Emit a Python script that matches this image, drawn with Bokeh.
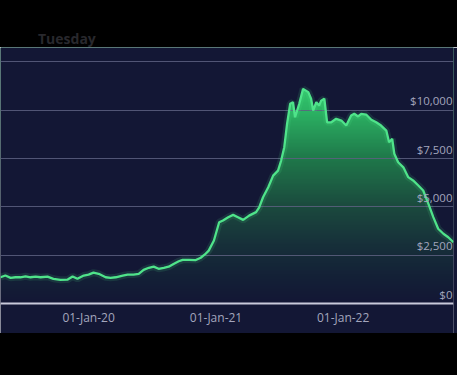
import numpy as np
import pandas as pd
from bokeh.plotting import figure
from bokeh.layouts import column
from bokeh.models import Div, FixedTicker, Range1d, ColumnDataSource, DatetimeTickFormatter
from bokeh.embed import file_html
from bokeh.resources import INLINE
from bokeh.core.properties import value

# ---------------- data ----------------
dates = [
    "2019-04-23", "2019-05-07", "2019-05-22", "2019-06-05", "2019-06-19", "2019-07-04",
    "2019-07-18", "2019-08-02", "2019-08-16", "2019-09-05", "2019-09-22", "2019-10-12",
    "2019-11-02", "2019-11-16", "2019-11-30", "2019-12-18", "2020-01-01", "2020-01-15",
    "2020-01-30", "2020-02-19", "2020-03-04", "2020-03-19", "2020-04-08", "2020-04-22",
    "2020-05-09", "2020-05-24", "2020-06-07", "2020-06-22", "2020-07-06", "2020-07-20",
    "2020-08-04", "2020-08-18", "2020-09-01", "2020-09-16", "2020-09-27", "2020-10-15",
    "2020-11-04", "2020-11-18", "2020-11-30", "2020-12-11", "2020-12-26", "2021-01-10",
    "2021-01-21", "2021-02-05", "2021-02-19", "2021-03-05", "2021-03-20", "2021-04-06",
    "2021-04-26", "2021-05-05", "2021-05-16", "2021-05-31", "2021-06-14", "2021-06-28",
    "2021-07-07", "2021-07-16", "2021-07-24", "2021-08-02", "2021-08-10", "2021-08-16",
    "2021-08-28", "2021-09-08", "2021-09-23", "2021-10-01", "2021-10-07", "2021-10-16",
    "2021-10-24", "2021-10-30", "2021-11-08", "2021-11-16", "2021-11-28", "2021-12-12",
    "2021-12-27", "2022-01-10", "2022-01-24", "2022-02-02", "2022-02-13", "2022-02-22",
    "2022-03-08", "2022-03-23", "2022-04-06", "2022-04-20", "2022-05-05", "2022-05-13",
    "2022-05-22", "2022-05-28", "2022-06-08", "2022-06-23", "2022-07-07", "2022-07-21",
    "2022-08-05", "2022-08-19", "2022-09-03", "2022-09-17", "2022-10-01", "2022-10-16",
    "2022-10-30", "2022-11-14",
]
values = [
    1360, 1450, 1330, 1360, 1360, 1410,
    1360, 1390, 1360, 1390, 1280, 1230,
    1240, 1400, 1280, 1450, 1500, 1600,
    1540, 1360, 1330, 1360, 1450, 1500,
    1500, 1540, 1740, 1850, 1910, 1800,
    1850, 1910, 2050, 2190, 2260, 2260,
    2250, 2370, 2540, 2740, 3260, 4210,
    4300, 4470, 4590, 4470, 4330, 4550,
    4730, 4980, 5500, 6020, 6620, 6880,
    7400, 8090, 9300, 10340, 10420, 9640,
    10340, 11110, 10940, 10600, 9990, 10420,
    10250, 10500, 10600, 9380, 9380, 9560,
    9470, 9210, 9730, 9820, 9680, 9820,
    9780, 9510, 9380, 9210, 8950, 8350,
    8520, 7750, 7310, 7050, 6540, 6370,
    6110, 5850, 5160, 4470, 3870, 3610,
    3430, 3170,
]
y_ticks = [0, 2500, 5000, 7500, 10000, 12500]
y_labels = ["$0", "$2,500", "$5,000", "$7,500", "$10,000", ""]
x_tick_dates = ["2020-01-01", "2021-01-01", "2022-01-01"]
x_tick_labels = ["01-Jan-20", "01-Jan-21", "01-Jan-22"]

# ---------------- style ----------------
NAVY = "#131735"
LINE = "#4fe38a"
x_start = pd.Timestamp("2020-01-01") - pd.Timedelta(days=253)
x_end = pd.Timestamp("2022-01-01") + pd.Timedelta(days=317)
y_top = 13250
y_bottom = -1550   # room for the date labels below the $0 baseline

dt = pd.to_datetime(dates)
vals = np.array(values, dtype=float)
src = ColumnDataSource(dict(x=dt, y=vals, top=np.full(len(vals), y_top)))

p = figure(width=457, height=286, x_axis_type="datetime",
           x_range=Range1d(x_start, x_end), y_range=Range1d(y_bottom, y_top),
           output_backend="svg", toolbar_location=None,
           min_border_left=0, min_border_right=4, min_border_top=0, min_border_bottom=0)
p.background_fill_color = NAVY
p.border_fill_color = NAVY
p.outline_line_color = None

# vertical gradient image under the curve
stops_v = np.array([0, 1500, 3000, 5000, 7500, 10000, 11300])
stops_c = np.array([
    [19, 23, 53], [20, 34, 55], [23, 48, 58], [27, 74, 62],
    [31, 120, 74], [44, 180, 100], [52, 200, 110]], dtype=float)
n = 200
yy = np.linspace(0, y_top, n)
rgba = np.zeros((n, 1), dtype=np.uint32)
view = rgba.view(dtype=np.uint8).reshape((n, 1, 4))
for c in range(3):
    view[:, 0, c] = np.interp(yy, stops_v, stops_c[:, c]).astype(np.uint8)
view[:, 0, 3] = 255
ms0 = x_start.value / 1e6
ms1 = x_end.value / 1e6
p.image_rgba(image=[rgba], x=ms0, y=0, dw=ms1 - ms0, dh=y_top, level="image")
# mask above the curve
p.varea(x="x", y1="y", y2="top", source=src, fill_color=NAVY, level="image")

# grid
p.xgrid.visible = False
p.ygrid.ticker = FixedTicker(ticks=y_ticks[1:])
p.ygrid.grid_line_color = "#5d6080"
p.ygrid.grid_line_width = 1
p.ygrid.grid_line_alpha = 0.85

# line with glow
p.line("x", "y", source=src, line_color=LINE, line_width=7, line_alpha=0.12)
p.line("x", "y", source=src, line_color=LINE, line_width=2.3)

# y labels inside the plot at the right
lab_src = ColumnDataSource(dict(x=[x_end] * len(y_ticks), y=y_ticks, t=y_labels))
p.text(x="x", y="y", text="t", source=lab_src, text_align="right", text_baseline="bottom",
       x_offset=-1, y_offset=-2, text_color="#a3a6bd", text_font=value("Open Sans"),
       text_font_size="11.5px")

# x axis, drawn on the $0 baseline
p.yaxis.visible = False
tick_ms = [pd.Timestamp(d).value // 10**6 for d in x_tick_dates]
p.xaxis.fixed_location = 0
p.xaxis.ticker = FixedTicker(ticks=tick_ms)
fmt = "%d-%b-%y"
p.xaxis.formatter = DatetimeTickFormatter(years=fmt, months=fmt, days=fmt, hours=fmt,
                                          minutes=fmt, seconds=fmt, milliseconds=fmt,
                                          microseconds=fmt, hourmin=fmt, minsec=fmt)
p.xaxis.major_label_overrides = {t: l for t, l in zip(tick_ms, x_tick_labels)}
p.xaxis.axis_line_color = "#c9cadb"
p.xaxis.axis_line_width = 2
p.xaxis.major_tick_line_color = None
p.xaxis.minor_tick_line_color = None
p.xaxis.major_tick_out = 0
p.xaxis.major_tick_in = 0
p.xaxis.major_label_standoff = 5
p.xaxis.major_label_text_color = "#a3a6bd"
p.xaxis.major_label_text_font = "Open Sans"
p.xaxis.major_label_text_font_size = "12px"

top = Div(text='<div style="position:absolute;left:38px;top:31px;color:#28282d;'
               'font:bold 14px \'Open Sans\';line-height:16px;">Tuesday</div>',
          width=457, height=47, margin=0,
          styles={"background-color": "#000000", "overflow": "hidden", "position": "relative"})
bottom = Div(text="", width=457, height=42, margin=0,
             styles={"background-color": "#000000"})

layout = column(top, p, bottom, spacing=0)
open("out.html", "w").write(file_html(layout, INLINE))
